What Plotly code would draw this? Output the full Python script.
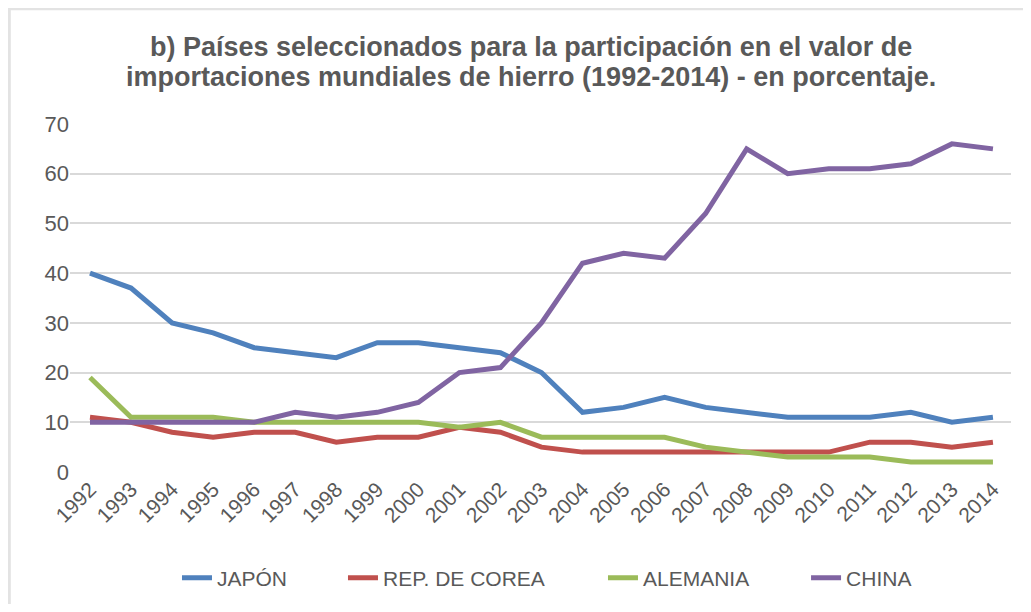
import plotly.graph_objects as go

# años y participación (%) en importaciones mundiales de hierro
years = [str(y) for y in range(1992, 2015)]
japon = [40, 37, 30, 28, 25, 24, 23, 26, 26, 25, 24, 20, 12, 13, 15, 13, 12, 11, 11, 11, 12, 10, 11]
corea = [11, 10, 8, 7, 8, 8, 6, 7, 7, 9, 8, 5, 4, 4, 4, 4, 4, 4, 4, 6, 6, 5, 6]
alemania = [19, 11, 11, 11, 10, 10, 10, 10, 10, 9, 10, 7, 7, 7, 7, 5, 4, 3, 3, 3, 2, 2, 2]
china = [10, 10, 10, 10, 10, 12, 11, 12, 14, 20, 21, 30, 42, 44, 43, 52, 65, 60, 61, 61, 62, 66, 65]

title_lines = [
    "b) Países seleccionados para la participación en el valor de",
    "importaciones mundiales de hierro (1992-2014) - en porcentaje.",
]

series = [
    ("JAPÓN", japon, "#4F81BD"),
    ("REP. DE COREA", corea, "#C0504D"),
    ("ALEMANIA", alemania, "#9BBB59"),
    ("CHINA", china, "#8064A2"),
]
# posición horizontal de cada entrada de la leyenda (fracción del área)
legend_x = [0.1137, 0.2901, 0.5664, 0.7822]

grey = "#595959"
fig = go.Figure()
legends = {}
for i, (name, vals, col) in enumerate(series):
    key = "legend" if i == 0 else f"legend{i + 1}"
    fig.add_trace(go.Scatter(x=years, y=vals, name=name, mode="lines",
                             legend=key, showlegend=True,
                             line=dict(color=col, width=5)))
    legends[key] = dict(orientation="h", x=legend_x[i], xanchor="left",
                        yref="container", y=0.0436, yanchor="middle",
                        bgcolor="rgba(0,0,0,0)",
                        font=dict(size=21, color=grey))

# título en dos líneas como anotaciones (para controlar el interlineado)
for i, txt in enumerate(title_lines):
    fig.add_annotation(text="<b>" + txt + "</b>", xref="paper", yref="paper",
                       x=0.49, y=1.221 - i * 0.086, xanchor="center",
                       yanchor="middle", showarrow=False,
                       font=dict(size=27, color=grey))

# la página añade 8px de margen: se descuenta del tamaño y de los márgenes
fig.update_layout(
    width=1015, height=596, showlegend=True,
    paper_bgcolor="white", plot_bgcolor="white",
    margin=dict(l=62, r=12, t=116, b=132),
    font=dict(family="Liberation Sans, Arial", color=grey, size=22),
    xaxis=dict(type="category", tickangle=-45, showgrid=False,
               range=[-0.487, 22.44],
               showline=False, ticks="", automargin=False,
               tickfont=dict(size=21)),
    yaxis=dict(range=[0, 70], dtick=10, showgrid=True, gridcolor="#D9D9D9",
               gridwidth=2, zeroline=False, showline=False, ticks="",
               automargin=False, tickfont=dict(size=22)),
    shapes=[
        dict(type="line", xref="paper", yref="paper",
             x0=-0.066, x1=1.02, y0=1.331, y1=1.331,
             line=dict(color="#E3E3E3", width=3)),
        dict(type="line", xref="paper", yref="paper",
             x0=-0.0645, x1=-0.0645, y0=1.331, y1=-0.40,
             line=dict(color="#E3E3E3", width=3)),
    ],
    **legends,
)

fig.write_html("out.html")
